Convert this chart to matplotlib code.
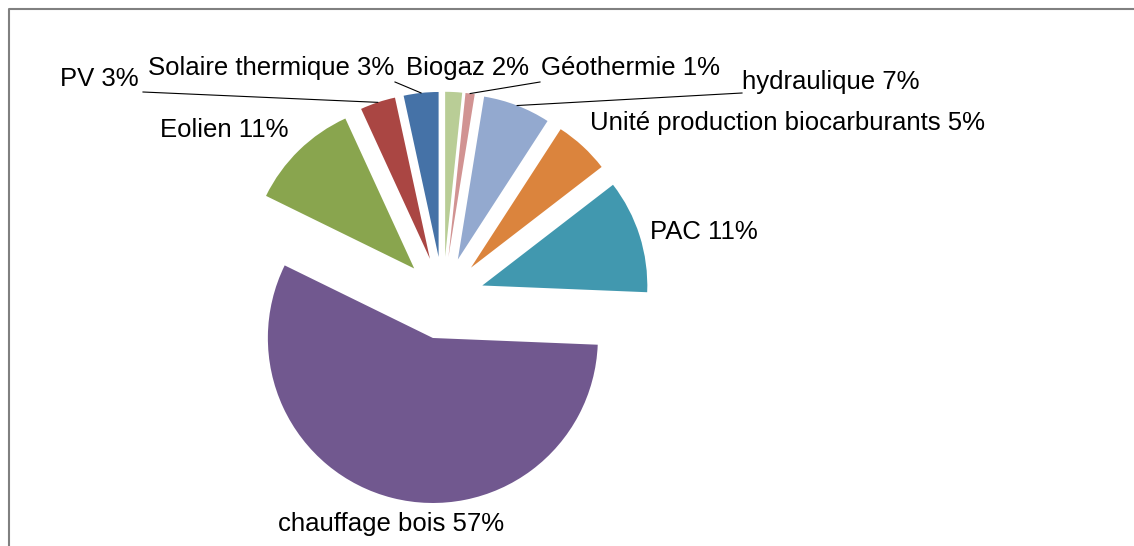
import numpy as np
import matplotlib
matplotlib.use("Agg")
import matplotlib.pyplot as plt
from matplotlib.lines import Line2D

# ── Data (counter-clockwise from 12 o'clock) ──
labels = ["Solaire thermique", "PV", "Eolien", "chauffage bois", "PAC",
          "Unité production biocarburants", "hydraulique", "Géothermie", "Biogaz"]
shares = [3.4, 3.45, 10.9, 56.6, 11.1, 5.4, 6.6, 0.9, 1.65]
colors = ["#4572A7", "#AA4643", "#89A54E", "#71588F", "#4198AF",
          "#DB843D", "#93A9CF", "#D19392", "#B9CD96"]

# ── Layout (pixel coords, y measured from top) ──
W, H = 1134, 546
CX, CY, RAD = 443, 298, 165
EXPLODE = 0.25 * RAD          # matplotlib takes the offset in data units
label_pos = {                       # left edge, vertical centre
    "Solaire thermique": (148, 68),
    "PV": (60, 79),
    "Eolien": (160, 130),
    "chauffage bois": (278, 524),
    "PAC": (650, 232),
    "Unité production biocarburants": (590, 123),
    "hydraulique": (742, 82),
    "Géothermie": (541, 68),
    "Biogaz": (406, 68),
}
leader_start = {"PV": (143, 92), "Solaire thermique": (395, 82),
                "Géothermie": (540, 82), "hydraulique": (742, 93)}

plt.rcParams["font.family"] = ["Liberation Sans", "DejaVu Sans"]

fig = plt.figure(figsize=(W / 100, H / 100), dpi=100)
ax = fig.add_axes([0, 0, 1, 1])
ax.axis("off")

wedges, _ = ax.pie(shares, colors=colors, startangle=90, counterclock=True,
                   center=(CX, H - CY), radius=RAD,
                   explode=[EXPLODE] * len(shares),
                   wedgeprops=dict(linewidth=0))
ax.set_xlim(0, W)
ax.set_ylim(0, H)
ax.set_aspect("auto")

total = sum(shares)
for name, val, w in zip(labels, shares, wedges):
    x, y = label_pos[name]
    ax.text(x, H - y, f"{name} {round(val / total * 100):d}%",
            fontsize=18.5, color="black", ha="left", va="center")
    if name in leader_start:
        mid = np.deg2rad((w.theta1 + w.theta2) / 2)
        cx, cy = w.center
        ex, ey = cx + RAD * np.cos(mid), cy + RAD * np.sin(mid)
        sx, sy = leader_start[name]
        ax.add_line(Line2D([sx, ex], [H - sy, ey], color="black", lw=0.8))

# chart area border (runs off the right and bottom edges)
ax.add_line(Line2D([9, 9, W + 10], [-10, H - 9, H - 9],
                   color="#808080", lw=1.5, clip_on=False))

fig.savefig("out.png", dpi=100)
